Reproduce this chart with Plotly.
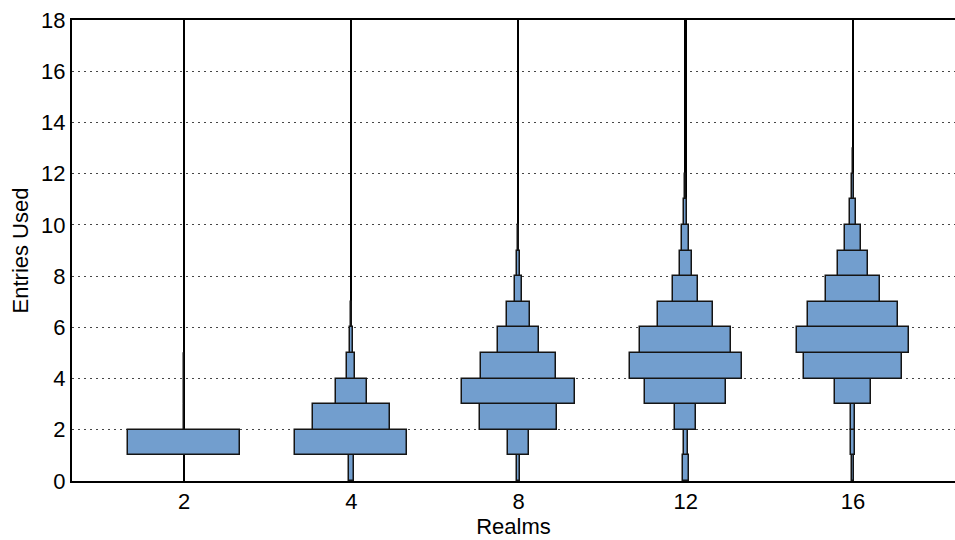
import plotly.graph_objects as go

# Data: relative bin widths (histogram density, normalized per group) for integer bins [k, k+1)
realms = ["2", "4", "8", "12", "16"]
bins_2 = [0.0, 1.0, 0.006, 0.006, 0.006]
bins_4 = [0.045, 1.0, 0.69, 0.28, 0.07, 0.03, 0.008]
bins_8 = [0.02, 0.19, 0.68, 1.0, 0.67, 0.36, 0.2, 0.066, 0.03, 0.008]
bins_12 = [0.054, 0.04, 0.19, 0.72, 1.0, 0.81, 0.49, 0.22, 0.11, 0.06, 0.03, 0.008]
bins_16 = [0.025, 0.036, 0.036, 0.32, 0.88, 1.0, 0.80, 0.49, 0.27, 0.15, 0.06, 0.015, 0.006]
groups = [bins_2, bins_4, bins_8, bins_12, bins_16]
y_ticks = [0, 2, 4, 6, 8, 10, 12, 14, 16, 18]

FILL = "rgb(114,158,206)"
EDGE = "rgb(20,20,20)"
HALF = 0.335      # max half-width in category units
LINE_W = 0.011    # width of the central line in category units

fig = go.Figure()

# central vertical lines (as thin bars so they sit beneath the histogram bars)
for i, name in enumerate(realms):
    fig.add_trace(go.Bar(
        orientation="h", y=[9], x=[LINE_W], base=[i - LINE_W / 2], width=[18],
        marker=dict(color="black", line=dict(width=0)),
        showlegend=False, hoverinfo="skip"))

for i, (name, vals) in enumerate(zip(realms, groups)):
    ys, xs, bases = [], [], []
    for k, v in enumerate(vals):
        if v <= 0:
            continue
        ys.append(k + 0.5)
        xs.append(2 * v * HALF)
        bases.append(i - v * HALF)
    fig.add_trace(go.Bar(
        orientation="h", y=ys, x=xs, base=bases, width=[1] * len(ys),
        marker=dict(color=FILL, line=dict(color=EDGE, width=1.5)),
        name=name, showlegend=False))

font = dict(family="Liberation Sans, Arial, sans-serif", size=22, color="black")

fig.update_layout(
    width=955, height=540,
    margin=dict(l=72, r=0, t=20, b=59),
    paper_bgcolor="white", plot_bgcolor="white",
    barmode="overlay", bargap=0,
    font=font,
    xaxis=dict(
        range=[-0.67, 4.61],
        tickmode="array", tickvals=list(range(len(realms))), ticktext=realms,
        showgrid=False, zeroline=False,
        showline=True, linecolor="black", linewidth=2, mirror=True,
        ticks="", tickfont=font,
        title=dict(text="Realms", font=font, standoff=0),
    ),
    yaxis=dict(
        range=[0, 18],
        tickmode="array", tickvals=y_ticks,
        showgrid=True, gridcolor="rgb(70,70,70)", gridwidth=1, griddash="2px,4px",
        zeroline=False,
        showline=True, linecolor="black", linewidth=2,
        ticks="", tickfont=font,
        title=dict(text="Entries Used", font=font, standoff=6),
    ),
)

fig.write_html("out.html")
